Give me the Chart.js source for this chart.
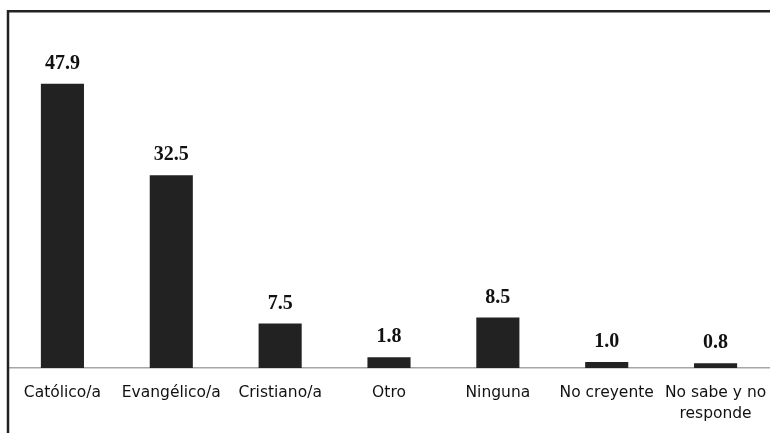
<!DOCTYPE html>
<html>
<head>
<meta charset="utf-8">
<script src="https://cdn.jsdelivr.net/npm/chart.js@4.4.1/dist/chart.umd.min.js"></script>
<style>
html,body{margin:0;padding:0;background:#fff;}
#wrap{width:770px;height:433px;position:relative;}
</style>
</head>
<body>
<div id="wrap"><canvas id="c" width="770" height="433"></canvas></div>
<script>
const categories = ['Católico/a', 'Evangélico/a', 'Cristiano/a', 'Otro', 'Ninguna', 'No creyente', ['No sabe y no', 'responde']];
const values = [47.9, 32.5, 7.5, 1.8, 8.5, 1.0, 0.8];

const valueLabels = {
  id: 'valueLabels',
  afterDatasetsDraw(chart) {
    const ctx = chart.ctx;
    const meta = chart.getDatasetMeta(0);
    ctx.save();
    ctx.font = 'bold 20px "Liberation Serif"';
    ctx.fillStyle = '#111';
    ctx.textAlign = 'center';
    ctx.textBaseline = 'middle';
    meta.data.forEach((bar, i) => {
      ctx.fillText(values[i].toFixed(1), bar.x, bar.y - 20);
    });
    ctx.restore();
  }
};

const frame = {
  id: 'frame',
  afterDraw(chart) {
    const ctx = chart.ctx;
    ctx.save();
    ctx.strokeStyle = '#222';
    ctx.lineWidth = 2.5;
    ctx.beginPath();
    ctx.moveTo(8, 440);
    ctx.lineTo(8, 11.3);
    ctx.lineTo(780, 11.3);
    ctx.stroke();
    ctx.restore();
  }
};

new Chart(document.getElementById('c'), {
  type: 'bar',
  data: {
    labels: categories,
    datasets: [{
      data: values,
      backgroundColor: '#222222',
      borderWidth: 0,
      barPercentage: 1,
      categoryPercentage: 0.396
    }]
  },
  options: {
    responsive: false,
    animation: false,
    layout: { padding: { left: 8, right: 0, top: 12, bottom: 0 } },
    plugins: { legend: { display: false }, tooltip: { enabled: false } },
    scales: {
      x: {
        grid: { display: false, drawTicks: false },
        border: { display: true, color: '#a6a6a6', width: 1.5 },
        ticks: {
          color: '#111',
          padding: 15,
          maxRotation: 0,
          autoSkip: false,
          font: { family: '"DejaVu Sans"', size: 15.5, lineHeight: 1.35 }
        },
        afterFit(scale) {
          scale.height = 65;
          scale.paddingLeft = 0;
          scale.paddingRight = 0;
        }
      },
      y: {
        display: false,
        min: 0,
        max: 60
      }
    }
  },
  plugins: [valueLabels, frame]
});
</script>
</body>
</html>
